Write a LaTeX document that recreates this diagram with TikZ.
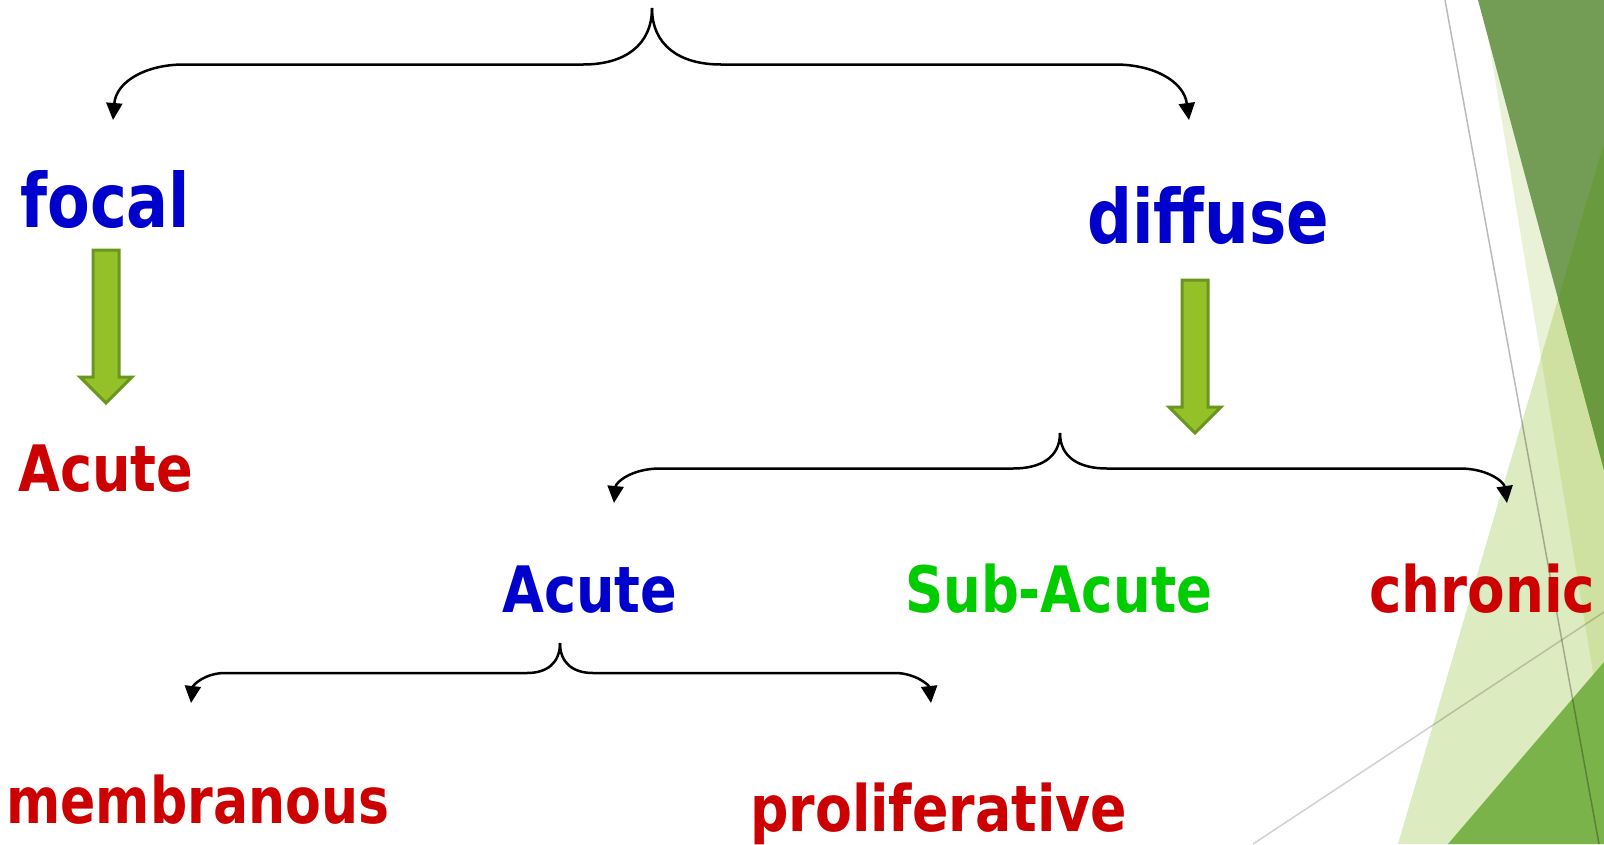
\documentclass[tikz,border=0pt]{standalone}
\usepackage{fontspec}
\usepackage{graphicx}
\setmainfont{DejaVu Sans}
\usetikzlibrary{arrows.meta}
\definecolor{tblue}{RGB}{0,0,204}
\definecolor{tred}{RGB}{204,0,0}
\definecolor{tgreen}{RGB}{0,204,0}
\definecolor{afill}{RGB}{147,193,39}
\definecolor{aedge}{RGB}{106,150,31}
\definecolor{stripc}{RGB}{233,241,214}
\definecolor{bigc}{RGB}{221,235,192}
\definecolor{bigstripc}{RGB}{207,225,160}
\definecolor{darkc}{RGB}{115,157,84}
\definecolor{darkbigc}{RGB}{106,154,62}
\definecolor{botc}{RGB}{123,179,75}
\newcommand{\fitw}[3]{\resizebox{#1pt}{\height}{\fontsize{#2}{#2}\selectfont\bfseries #3}}
\tikzset{
  txt/.style={inner sep=0pt, anchor=base west},
  conn/.style={line width=2.5pt, -{Triangle[length=17pt,width=16pt]}},
  blockarrow/.style={fill=afill, draw=aedge, line width=3pt, line join=miter},
  deco/.style={line width=1.5pt, draw=black}
}
\begin{document}
\begin{tikzpicture}[x=1pt,y=-1pt]
\clip (0,0) rectangle (1604,844);
\fill[white] (0,0) rectangle (1604,844);
% background decoration
\fill[stripc] (1482,0) -- (1604,0) -- (1604,739) -- cycle;
\fill[bigc] (1604,143) -- (1398,844) -- (1604,844) -- cycle;
\begin{scope}
  \clip (1604,143) -- (1398,844) -- (1604,844) -- cycle;
  \fill[bigstripc] (1482,0) -- (1604,0) -- (1604,739) -- cycle;
\end{scope}
\fill[darkc] (1478,0) -- (1604,0) -- (1604,470) -- cycle;
\begin{scope}
  \clip (1604,143) -- (1398,844) -- (1604,844) -- cycle;
  \fill[darkbigc] (1478,0) -- (1604,0) -- (1604,470) -- cycle;
\end{scope}
\fill[botc] (1604,662) -- (1448,844) -- (1604,844) -- cycle;
\draw[deco, opacity=0.27] (1445,0) -- (1599,844);
\draw[deco, opacity=0.18] (1253,844) -- (1604,612);

% texts
\node[txt, text=tblue] (focal) at (20,227) {\fitw{170}{75}{focal}};
\node[txt, text=tblue] (diffuse) at (1087,243.5) {\fitw{242}{75}{diffuse}};
\node[txt, text=tred] (acuteL) at (18,491) {\fitw{175}{64}{Acute}};
\node[txt, text=tblue] (acuteM) at (502,612) {\fitw{175}{64}{Acute}};
\node[txt, text=tgreen] (sub) at (905,612) {\fitw{307}{64}{Sub-Acute}};
\node[txt, text=tred] (chronic) at (1369,612) {\fitw{226}{64}{chronic}};
\node[txt, text=tred] (membr) at (6,823.5) {\fitw{383}{64}{membranous}};
\node[txt, text=tred] (prolif) at (750,831) {\fitw{377}{64}{proliferative}};

% brace coordinates
\coordinate (t1) at (652,8);
\coordinate (e1L) at (113,120);
\coordinate (e1R) at (1189,120);
\coordinate (t2) at (1060,433);
\coordinate (e2L) at (614,503);
\coordinate (e2R) at (1507,503);
\coordinate (t3) at (560,643);
\coordinate (e3L) at (191,703);
\coordinate (e3R) at (931,703);

% top brace
\draw[conn] (t1) .. controls (652,45) and (625,64.5) .. (583,64.5) -- (184,64.5)
  .. controls (145,64.5) and (116,82) .. (e1L);
\draw[conn] (t1) .. controls (652,45) and (679,64.5) .. (721,64.5) -- (1115,64.5)
  .. controls (1155,64.5) and (1184,82) .. (e1R);
% middle brace
\draw[conn] (t2) .. controls (1060,458) and (1040,468.5) .. (1013,468.5) -- (660,468.5)
  .. controls (632,468.5) and (616,482) .. (e2L);
\draw[conn] (t2) .. controls (1060,458) and (1080,468.5) .. (1107,468.5) -- (1460,468.5)
  .. controls (1488,468.5) and (1504,482) .. (e2R);
% bottom brace
\draw[conn] (t3) .. controls (560,663) and (547,673) .. (527,673) -- (225,673)
  .. controls (205,673) and (193,685) .. (e3L);
\draw[conn] (t3) .. controls (560,663) and (573,673) .. (593,673) -- (895,673)
  .. controls (915,673) and (929,685) .. (e3R);

% green block arrows
\draw[blockarrow] (93,250) -- (119,250) -- (119,377) -- (132,377) -- (106,403)
  -- (80,377) -- (93,377) -- cycle;
\draw[blockarrow] (1182,280) -- (1208,280) -- (1208,407) -- (1221,407) -- (1195,433)
  -- (1169,407) -- (1182,407) -- cycle;
\end{tikzpicture}
\end{document}
